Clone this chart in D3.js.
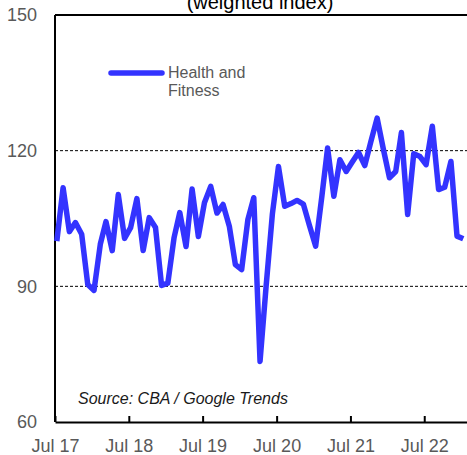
<!DOCTYPE html>
<html>
<head>
<meta charset="utf-8">
<script src="https://cdn.jsdelivr.net/npm/d3@7"></script>
<style>
  body { margin: 0; background: #fff; }
  svg { display: block; font-family: "Liberation Sans", Arial, sans-serif; }
</style>
</head>
<body>
<svg id="chart" width="467" height="455"></svg>
<script>
// monthly index, Jul 2017 .. Jan 2023
const startYear = 2017, startMonth = 6
const values = [
  100, 111.8, 102.1, 104.1, 101.5, 90.4, 89.1, 99.3, 104.3, 97.9, 110.3, 100.6,
  103, 109.4, 97.9, 105.2, 103, 90.2, 90.7, 100.8, 106.3, 98.8, 111.5, 101,
  108.5, 112.1, 106.2, 108.1, 103.3, 94.8, 93.7, 104.8, 109.6, 73.4, 90, 106,
  116.5, 107.7, 108.3, 109, 108.2, 103.5, 98.9, 110, 120.6, 109.9, 118, 115.4,
  117.5, 119.6, 116.7, 122, 127.2, 120.5, 114, 115.4, 124, 105.9, 119.3, 118.7,
  116.9, 125.4, 111.4, 111.9, 117.6, 101.1, 100.5
]
const yTicks = [60, 90, 120, 150]
const gridValues = [90, 120]
const xTickYears = [2017, 2018, 2019, 2020, 2021, 2022]
const seriesName = ["Health and", "Fitness"]
const title = "(weighted index)"
const source = "Source: CBA / Google Trends"

const data = values.map((v, i) => ({ date: new Date(startYear, startMonth + i, 10), value: v }))

const svg = d3.select("#chart")
const mLeft = 55, mTop = 15, mBottom = 422
const x = d3.scaleTime()
  .domain([new Date(2017, 6, 1), new Date(2023, 1, 1)])
  .range([mLeft, mLeft + 67 * 6.16])
const y = d3.scaleLinear().domain([60, 150]).range([mBottom, mTop])

// title (cut off at top)
svg.append("text").attr("x", 260).attr("y", 9).attr("text-anchor", "middle")
  .attr("font-size", 20).attr("fill", "#000").text(title)

// gridlines
svg.selectAll(".grid").data(gridValues).enter().append("line")
  .attr("x1", mLeft).attr("x2", 467)
  .attr("y1", d => y(d)).attr("y2", d => y(d))
  .attr("stroke", "#000").attr("stroke-width", 1).attr("stroke-dasharray", "3,2")

// frame: top, left, bottom
svg.append("line").attr("x1", mLeft).attr("x2", 467).attr("y1", mTop).attr("y2", mTop)
  .attr("stroke", "#000").attr("stroke-width", 2)
svg.append("line").attr("x1", mLeft).attr("x2", mLeft).attr("y1", mTop).attr("y2", mBottom)
  .attr("stroke", "#000").attr("stroke-width", 2)

// x axis with inward ticks
const xAxis = d3.axisBottom(x)
  .tickValues(xTickYears.map(yr => new Date(yr, 6, 1)))
  .tickFormat(d3.timeFormat("%b %y"))
  .tickSizeInner(-6).tickSizeOuter(0).tickPadding(17)
const gx = svg.append("g").attr("transform", `translate(0,${mBottom})`).call(xAxis)
gx.select(".domain").attr("stroke", "#000").attr("stroke-width", 2)
gx.selectAll(".tick line").attr("stroke", "#000").attr("stroke-width", 2)
gx.selectAll(".tick text").attr("font-size", 18).attr("fill", "#595959")
  .attr("font-family", "Liberation Sans, Arial, sans-serif")

// y labels
svg.selectAll(".ylab").data(yTicks).enter().append("text")
  .attr("x", 37).attr("y", d => y(d)).attr("dy", "0.35em")
  .attr("text-anchor", "end").attr("font-size", 18).attr("fill", "#595959")
  .text(d => d)

// series line
const line = d3.line().x(d => x(d.date)).y(d => y(d.value))
svg.append("path").datum(data).attr("d", line)
  .attr("fill", "none").attr("stroke", "#3333ff").attr("stroke-width", 5.5)
  .attr("stroke-linejoin", "round")

// legend
svg.append("line").attr("x1", 111).attr("x2", 162).attr("y1", 73).attr("y2", 73)
  .attr("stroke", "#3333ff").attr("stroke-width", 5.5).attr("stroke-linecap", "round")
svg.append("text").attr("x", 168).attr("y", 78).attr("font-size", 16).attr("fill", "#595959")
  .selectAll("tspan").data(seriesName).enter().append("tspan")
  .attr("x", 168).attr("dy", (d, i) => i ? 18 : 0).text(d => d)

// source note
svg.append("text").attr("x", 78).attr("y", 404).attr("font-size", 16)
  .attr("font-style", "italic").attr("fill", "#1a1a1a").text(source)
</script>
</body>
</html>
